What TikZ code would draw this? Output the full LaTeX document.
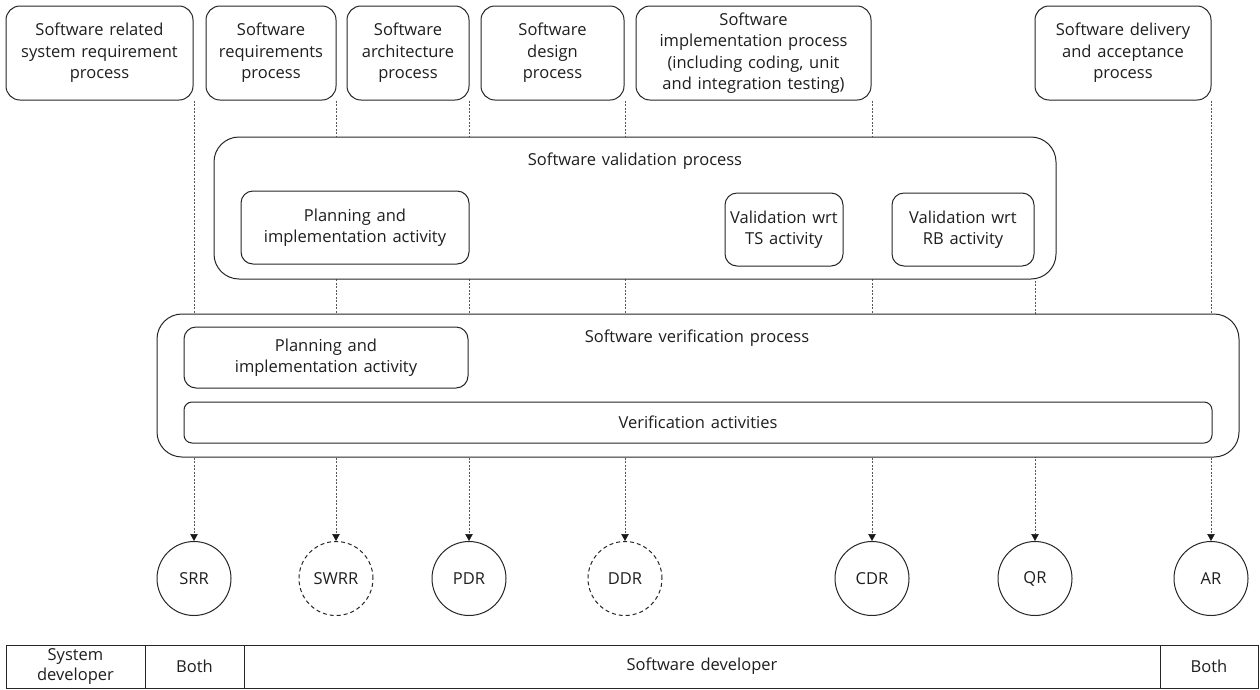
\documentclass[tikz,border=0pt]{standalone}
\usepackage{fontspec}
\setmainfont[WordSpace={1.35}]{Open Sans}
\usetikzlibrary{arrows.meta}
\pgfdeclarelayer{bg}
\pgfsetlayers{bg,main}

\begin{document}
\begin{tikzpicture}[x=1pt,y=-1pt,
  txt/.style={font=\fontsize{16.5}{21.5}\selectfont, text=black!88, align=center, inner sep=0pt},
  box/.style={txt, draw=black!85, line width=1pt, fill=white, rectangle},
  procbox/.style={box, rounded corners=14pt, minimum height=94pt},
  groupbox/.style={box, rounded corners=25pt},
  actbox/.style={box, rounded corners=12pt},
  review/.style={txt, circle, draw=black!85, line width=1pt, fill=white, minimum size=74pt},
  optreview/.style={review, dash pattern=on 4pt off 3pt},
  cell/.style={box, line width=0.9pt, minimum height=43pt},
  link/.style={draw=black!65, line width=0.6pt, dash pattern=on 2pt off 1.5pt,
    -{Triangle[length=7pt,width=7.5pt,color=black!90]}},
]
\useasboundingbox (0,0) rectangle (1260,689);

% life-cycle processes
\node[procbox, minimum width=187pt] (p1) at (99.5,53) {Software related\\system requirement\\process};
\node[procbox, minimum width=130pt] (p2) at (271,53) {Software\\requirements\\process};
\node[procbox, minimum width=122pt] (p3) at (408,53) {Software\\architecture\\process};
\node[procbox, minimum width=143pt] (p4) at (552.5,53) {Software\\design\\process};
\node[procbox, minimum width=235pt] (p5) at (753.5,53) {Software\\implementation process\\(including coding, unit\\and integration testing)};
\node[procbox, minimum width=176pt] (p6) at (1123,53) {Software delivery\\and acceptance\\process};

% validation process
\node[groupbox, minimum width=842pt, minimum height=142pt] (val) at (635,208) {};
\node[txt] (valt) at (635,161) {Software validation process};
\node[actbox, minimum width=228pt, minimum height=73pt] (vplan) at (355,227.5) {Planning and\\implementation activity};
\node[actbox, minimum width=118pt, minimum height=73pt] (ts) at (784,229.5) {Validation wrt\\TS activity};
\node[actbox, minimum width=142pt, minimum height=73pt] (rb) at (963,229.5) {Validation wrt\\RB activity};

% verification process
\node[groupbox, minimum width=1082pt, minimum height=143pt] (ver) at (698,385.5) {};
\node[txt] (vert) at (697,338) {Software verification process};
\node[actbox, minimum width=284pt, minimum height=61pt] (wplan) at (326,357.5) {Planning and\\implementation activity};
\node[actbox, rounded corners=8pt, minimum width=1028pt, minimum height=41pt] (acts) at (698,422.5) {Verification activities};

% reviews
\node[review] (srr) at (194,578.5) {SRR};
\node[optreview] (swrr) at (336,578.5) {SWRR};
\node[review] (pdr) at (469,578.5) {PDR};
\node[optreview] (ddr) at (625,578.5) {DDR};
\node[review] (cdr) at (872,578.5) {CDR};
\node[review] (qr) at (1035,578.5) {QR};
\node[review] (ar) at (1211,578.5) {AR};

% responsibilities
\node[cell, minimum width=139pt, font=\fontsize{16.5}{20}\selectfont] (c1) at (75.5,666.5) {System\\developer};
\node[cell, minimum width=99pt] (c2) at (194.5,666.5) {Both};
\node[cell, minimum width=916pt] (c3) at (702,666.5) {Software developer};
\node[cell, minimum width=98pt] (c4) at (1209,666.5) {Both};

% milestone links, behind the process boxes
\begin{pgfonlayer}{bg}
\draw[link] (srr.north |- p1.south) -- (srr.north);
\draw[link] (swrr.north |- p2.south) -- (swrr.north);
\draw[link] (pdr.north |- p3.south) -- (pdr.north);
\draw[link] (ddr.north |- p4.south) -- (ddr.north);
\draw[link] (cdr.north |- p5.south) -- (cdr.north);
\draw[link] (qr.north |- rb.south) -- (qr.north);
\draw[link] (ar.north |- p6.south) -- (ar.north);
\end{pgfonlayer}
\end{tikzpicture}
\end{document}
